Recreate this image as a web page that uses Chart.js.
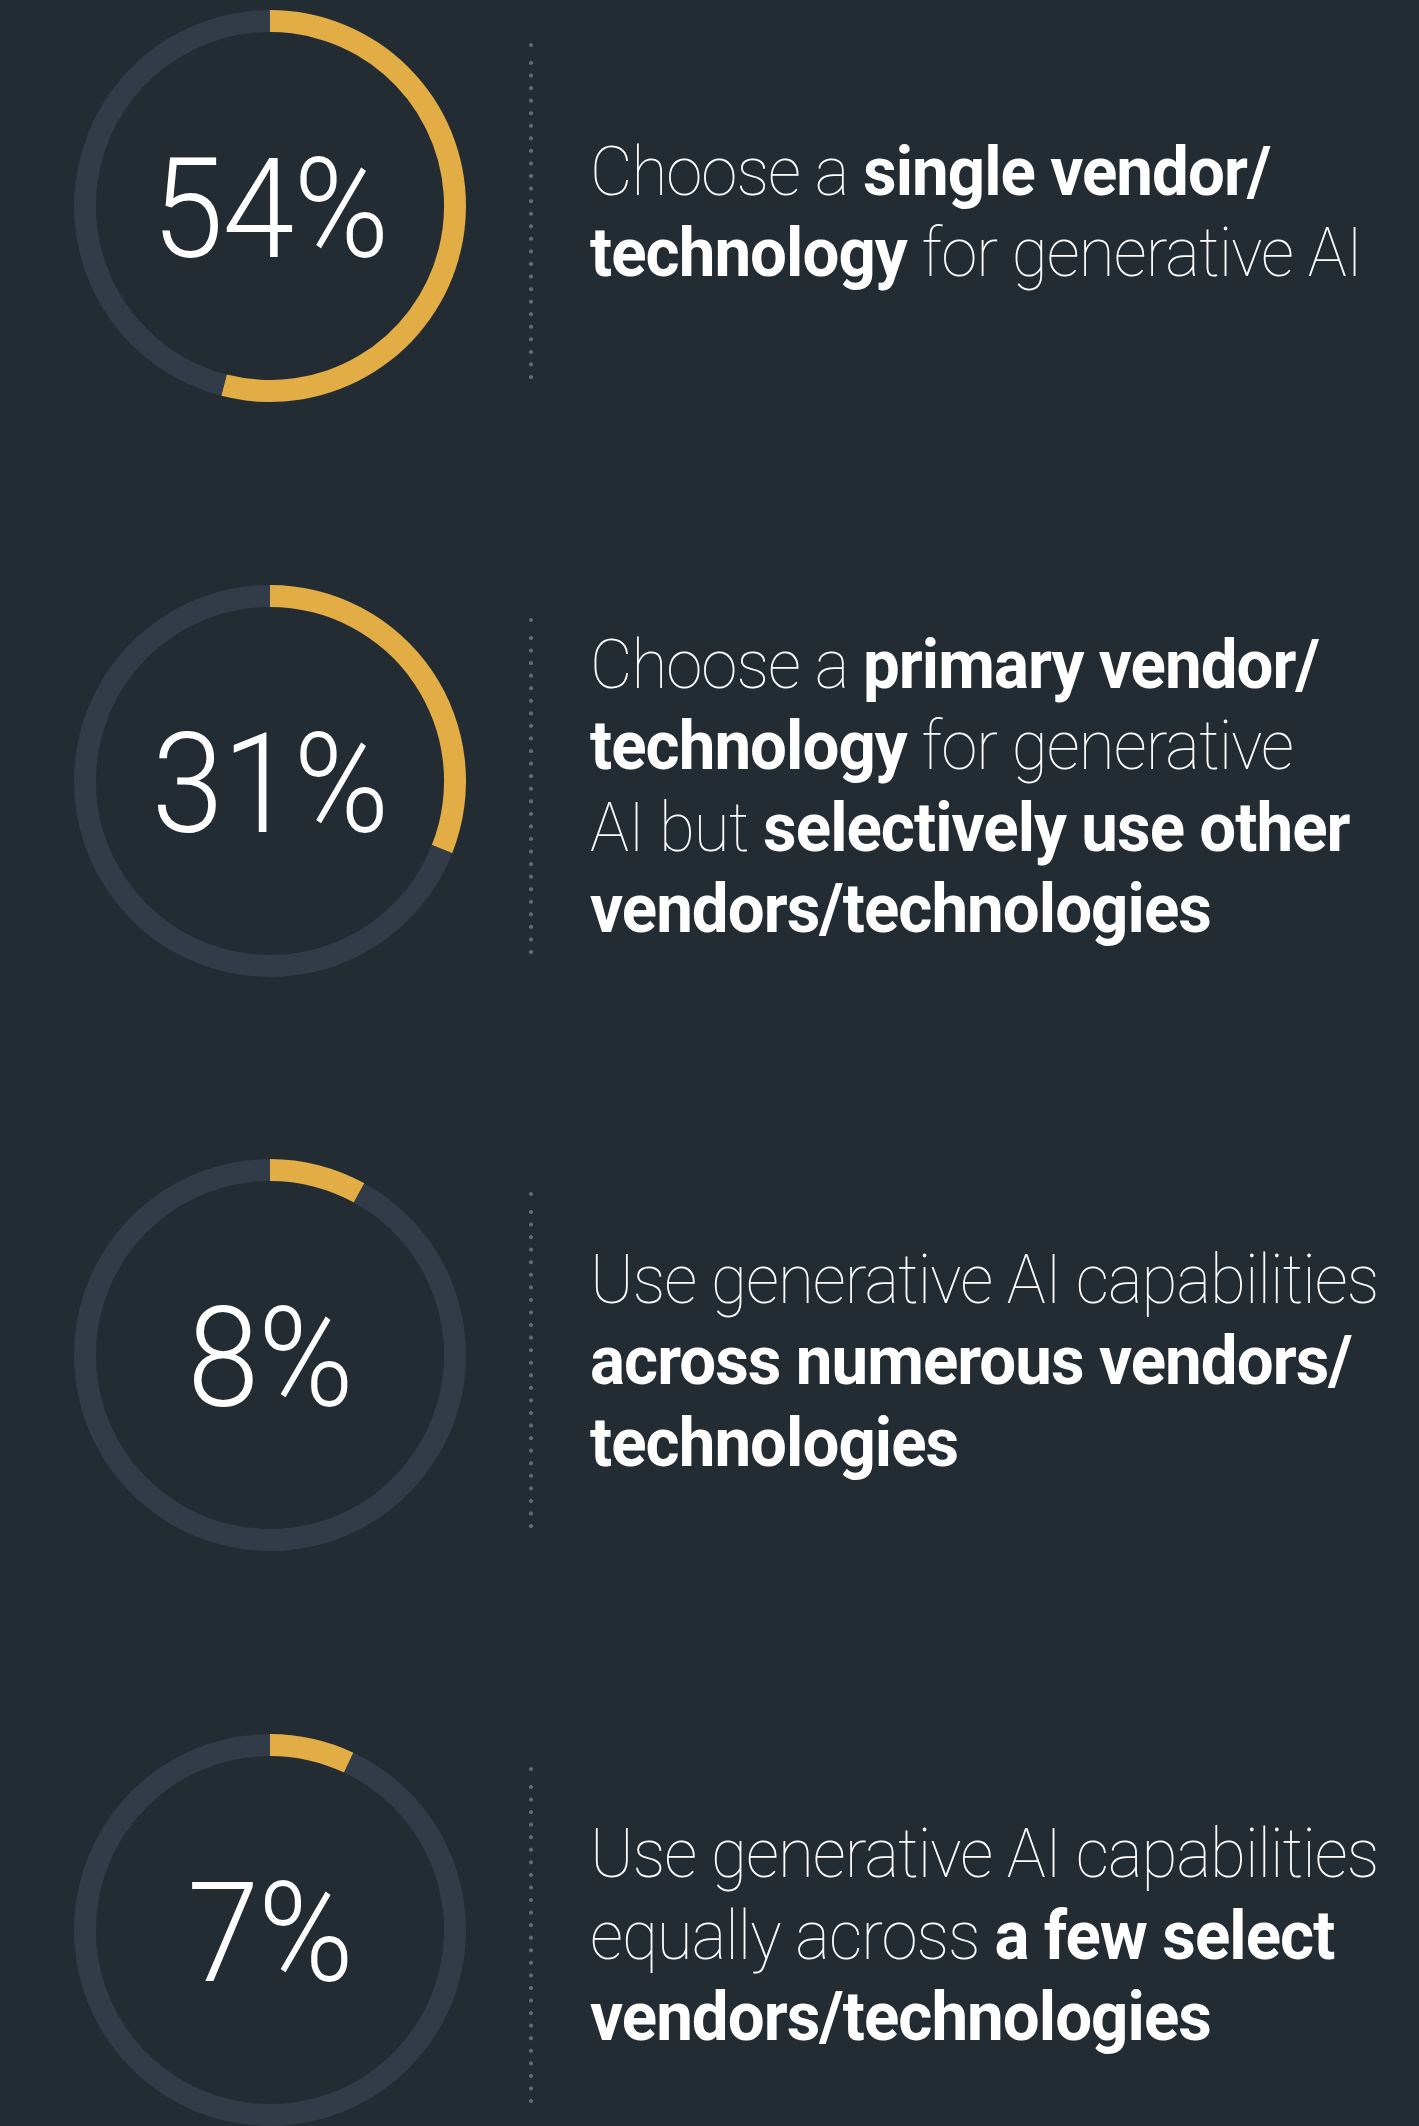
<!DOCTYPE html>
<html>
<head>
<meta charset="utf-8">
<title>Generative AI vendor strategy</title>
<script src="https://cdn.jsdelivr.net/npm/chart.js@4.4.1/dist/chart.umd.min.js"></script>
<style>
    html, body {
        margin: 0;
        padding: 0;
        background: #232b33;
    }
    body {
        width: 1419px;
        height: 2126px;
        position: relative;
        overflow: hidden;
        font-family: Roboto, "Open Sans", sans-serif;
        color: #ffffff;
    }
    .row {
        position: absolute;
        left: 0;
        width: 1419px;
        height: 392px;
    }
    .row canvas {
        position: absolute;
        left: 74px;
        top: 0;
    }
    .pct {
        position: absolute;
        left: 74px;
        top: 3px;
        width: 392px;
        height: 392px;
        display: flex;
        align-items: center;
        justify-content: center;
        font-size: 140px;
        font-weight: 300;
        letter-spacing: -1px;
        transform: scaleX(0.925);
    }
    .dots {
        position: absolute;
        left: 529px;
        width: 5px;
    }
    .dots .first {
        position: absolute;
        left: 0;
        top: 0;
        width: 4px;
        height: 4px;
        border-radius: 50%;
        background: #5f6e74;
    }
    .dots .rest {
        position: absolute;
        left: 0;
        top: 18px;
        width: 4px;
        background-image: radial-gradient(circle at 2px 2px, #5f6e74 1.8px, transparent 2.2px);
        background-size: 4px 12.57px;
        background-repeat: repeat-y;
    }
    .desc {
        position: absolute;
        left: 590px;
        top: 6px;
        height: 392px;
        display: flex;
        align-items: center;
        font-size: 69px;
        line-height: 81.5px;
        font-weight: 100;
        white-space: nowrap;
        letter-spacing: -1px;
        transform: scaleX(0.948);
        transform-origin: left center;
    }
    .desc b {
        font-weight: 700;
    }
</style>
</head>
<body>
<div id="board"></div>
<script>
// Survey values (percent of respondents)
const percentValues = [54, 31, 8, 7];
const percentLabels = ['54%', '31%', '8%', '7%'];

// Description lines, *...* marks the bold parts
const descriptionLines = [
    ['Choose a *single vendor/*', '*technology* for generative AI'],
    ['Choose a *primary vendor/*', '*technology* for generative', 'AI but *selectively use other*', '*vendors/technologies*'],
    ['Use generative AI capabilities', '*across numerous vendors/*', '*technologies*'],
    ['Use generative AI capabilities', 'equally across *a few select*', '*vendors/technologies*']
];

const GOLD = '#e1ad44';
const TRACK = '#323c48';
const ROW_TOP = 10;
const ROW_STEP = 574.5;
const SIZE = 392;

function toMarkup(line) {
    return line.replace(/\*([^*]+)\*/g, '<b>$1</b>');
}

function buildRow(index) {
    const board = document.getElementById('board');
    const row = document.createElement('div');
    row.className = 'row';
    row.style.top = `${ROW_TOP + index * ROW_STEP}px`;

    const canvas = document.createElement('canvas');
    canvas.width = SIZE;
    canvas.height = SIZE;
    row.appendChild(canvas);

    const pct = document.createElement('div');
    pct.className = 'pct';
    pct.textContent = percentLabels[index];
    row.appendChild(pct);

    // dotted separator
    const dots = document.createElement('div');
    dots.className = 'dots';
    dots.style.top = '33px';
    dots.innerHTML = '<div class="first"></div><div class="rest" style="height:' + (25 * 12.57 + 4) + 'px"></div>';
    row.appendChild(dots);

    const desc = document.createElement('div');
    desc.className = 'desc';
    desc.innerHTML = '<div>' + descriptionLines[index].map(toMarkup).join('<br>') + '</div>';
    row.appendChild(desc);

    board.appendChild(row);

    const value = percentValues[index];
    new Chart(canvas, {
        type: 'doughnut',
        data: {
            labels: ['Selected', 'Other'],
            datasets: [{
                data: [value, 100 - value],
                backgroundColor: [GOLD, TRACK],
                borderWidth: 0,
                hoverOffset: 0
            }]
        },
        options: {
            responsive: false,
            animation: false,
            cutout: '88.8%',
            events: [],
            plugins: {
                legend: { display: false },
                tooltip: { enabled: false }
            }
        }
    });
}

document.addEventListener('DOMContentLoaded', () => {
    percentValues.forEach((v, i) => buildRow(i));
});
</script>
</body>
</html>
